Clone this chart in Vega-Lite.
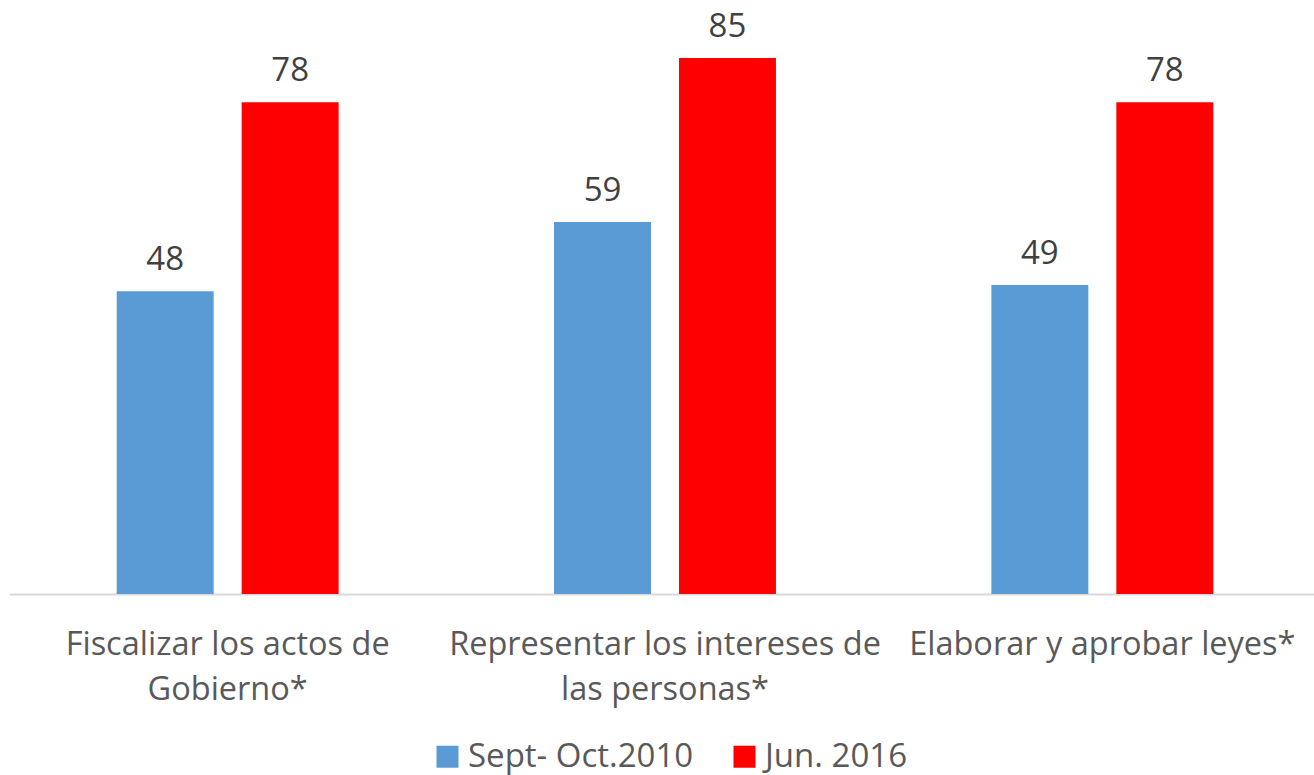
{
  "$schema": "https://vega.github.io/schema/vega-lite/v6.json",
  "autosize": "none",
  "width": 1305,
  "height": 594,
  "padding": {"left": 9, "top": 0, "right": 0, "bottom": 181},
  "background": "white",
  "config": {"view": {"stroke": null}, "font": "Open Sans"},
  "data": {"values": [
    {"cat": "Fiscalizar los actos de|Gobierno*", "serie": "Sept- Oct.2010", "value": 48},
    {"cat": "Fiscalizar los actos de|Gobierno*", "serie": "Jun. 2016", "value": 78},
    {"cat": "Representar los intereses de|las personas*", "serie": "Sept- Oct.2010", "value": 59},
    {"cat": "Representar los intereses de|las personas*", "serie": "Jun. 2016", "value": 85},
    {"cat": "Elaborar y aprobar leyes*", "serie": "Sept- Oct.2010", "value": 49},
    {"cat": "Elaborar y aprobar leyes*", "serie": "Jun. 2016", "value": 78}
  ]},
  "encoding": {
    "x": {
      "field": "cat", "type": "nominal",
      "sort": ["Fiscalizar los actos de|Gobierno*", "Representar los intereses de|las personas*", "Elaborar y aprobar leyes*"],
      "scale": {"range": [0, 1312], "paddingInner": 0, "paddingOuter": 0},
      "axis": {
        "title": null, "labelAngle": 0, "ticks": false,
        "domainColor": "#D9D9D9", "domainWidth": 2,
        "labelExpr": "split(datum.value, '|')",
        "labelFont": "Open Sans", "labelFontSize": 32.5, "labelColor": "#595959",
        "labelBaseline": "alphabetic", "labelPadding": 60, "labelLineHeight": 45,
        "labelLimit": 0
      }
    },
    "xOffset": {
      "field": "serie", "type": "nominal",
      "sort": ["Sept- Oct.2010", "Jun. 2016"],
      "scale": {"paddingInner": 0.224, "paddingOuter": 0.862}
    },
    "y": {
      "field": "value", "type": "quantitative",
      "scale": {"domain": [0, 94.2], "nice": false, "zero": true},
      "axis": null
    }
  },
  "layer": [
    {
      "mark": {"type": "bar"},
      "encoding": {
        "color": {
          "field": "serie", "type": "nominal",
          "sort": ["Sept- Oct.2010", "Jun. 2016"],
          "scale": {"domain": ["Sept- Oct.2010", "Jun. 2016"], "range": ["#5B9BD5", "#FF0000"]},
          "legend": {
            "title": null, "orient": "none", "direction": "horizontal",
            "legendX": 422, "legendY": 740,
            "symbolType": "square", "symbolSize": 484, "symbolStrokeWidth": 0,
            "labelFont": "Open Sans", "labelFontSize": 33, "labelColor": "#595959",
            "labelOffset": 4, "columnPadding": 34, "labelLimit": 0
          }
        }
      }
    },
    {
      "mark": {"type": "text", "baseline": "alphabetic", "dy": -21, "fontSize": 33, "font": "Open Sans", "color": "#404040"},
      "encoding": {"text": {"field": "value", "type": "quantitative"}}
    }
  ]
}
